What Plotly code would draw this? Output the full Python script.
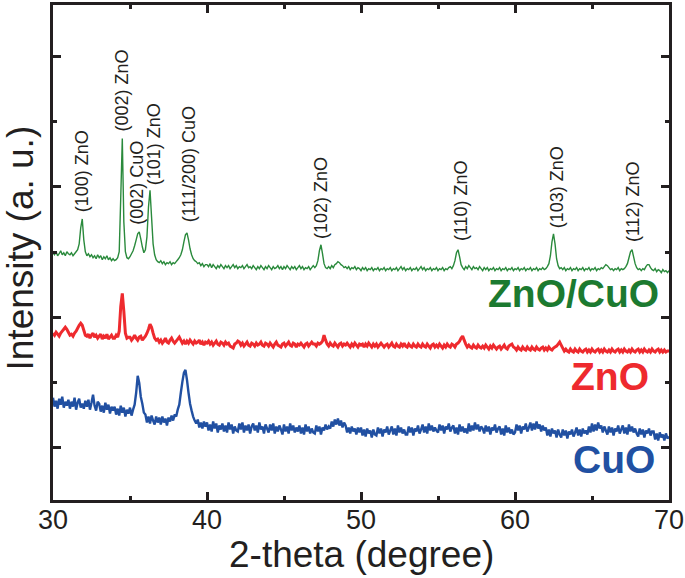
import plotly.graph_objects as go

# 2-theta grid: 30.0 .. 70.0 in 0.1 degree steps (rows = one degree each)
TWO_THETA_START = 30.0
TWO_THETA_STEP = 0.1

# ZnO/CuO composite pattern (arbitrary intensity units)
znocuo = [
    249, 247, 250, 246, 248, 251, 247, 249, 246, 250,  # 30
    248, 247, 249, 246, 248, 250, 252, 258, 274, 283,  # 31
    262, 250, 246, 248, 245, 247, 244, 246, 243, 247,  # 32
    244, 246, 242, 245, 243, 246, 242, 244, 241, 243,  # 33
    241, 242, 244, 250, 305, 364, 280, 250, 244, 243,  # 34
    245, 248, 251, 256, 262, 268, 270, 263, 255, 249,  # 35
    252, 265, 295, 312, 285, 258, 247, 242, 240, 239,  # 36
    241, 238, 240, 237, 239, 238, 240, 237, 239, 238,  # 37
    240, 242, 244, 247, 252, 260, 267, 269, 262, 253,  # 38
    247, 243, 241, 240, 238, 239, 236, 238, 235, 237,  # 39
    237, 235, 238, 234, 237, 235, 233, 236, 234, 237,  # 40
    235, 233, 236, 234, 236, 233, 235, 237, 234, 236,  # 41
    233, 235, 234, 236, 233, 235, 237, 234, 235, 233,  # 42
    236, 234, 232, 235, 233, 236, 234, 232, 235, 233,  # 43
    236, 234, 232, 235, 233, 234, 236, 233, 235, 232,  # 44
    235, 233, 236, 234, 232, 235, 233, 235, 232, 234,  # 45
    236, 233, 235, 232, 234, 233, 235, 232, 234, 236,  # 46
    234, 236, 241, 251, 257, 248, 238, 234, 233, 235,  # 47
    233, 236, 234, 237, 238, 240, 239, 237, 236, 234,  # 48
    235, 233, 235, 232, 234, 233, 235, 232, 234, 233,  # 49
    231, 234, 232, 234, 231, 233, 232, 234, 231, 233,  # 50
    232, 234, 231, 233, 232, 234, 231, 233, 232, 234,  # 51
    231, 233, 232, 234, 231, 233, 235, 232, 234, 231,  # 52
    233, 232, 234, 231, 233, 232, 234, 231, 233, 235,  # 53
    232, 234, 231, 233, 232, 234, 231, 233, 232, 234,  # 54
    231, 233, 232, 234, 231, 233, 232, 234, 235, 233,  # 55
    236, 241, 249, 252, 245, 237, 234, 232, 235, 233,  # 56
    236, 234, 232, 235, 233, 234, 232, 235, 233, 231,  # 57
    234, 232, 234, 231, 233, 232, 234, 231, 233, 232,  # 58
    234, 231, 233, 232, 234, 231, 233, 232, 234, 231,  # 59
    233, 232, 234, 231, 233, 232, 234, 231, 233, 232,  # 60
    234, 231, 233, 232, 234, 231, 233, 232, 234, 232,  # 61
    233, 235, 238, 246, 260, 268, 258, 243, 236, 233,  # 62
    234, 232, 234, 231, 233, 232, 234, 231, 233, 232,  # 63
    234, 231, 233, 232, 234, 231, 233, 232, 234, 231,  # 64
    233, 232, 234, 231, 233, 232, 234, 233, 235, 237,  # 65
    236, 234, 232, 233, 231, 233, 232, 234, 231, 233,  # 66
    232, 233, 235, 238, 244, 250, 252, 245, 238, 234,  # 67
    232, 233, 231, 233, 232, 235, 237, 237, 234, 232,  # 68
    231, 233, 230, 232, 231, 229, 232, 230, 231, 229,  # 69
    231,                                               # 70
]

# ZnO pattern
zno = [
    168, 166, 169, 167, 165, 168, 170, 172, 174, 172,  # 30
    169, 166, 167, 165, 168, 170, 173, 176, 178, 176,  # 31
    171, 166, 165, 167, 163, 166, 168, 164, 166, 163,  # 32
    165, 167, 162, 165, 163, 167, 162, 164, 166, 163,  # 33
    163, 166, 164, 170, 195, 208, 190, 168, 163, 164,  # 34
    164, 161, 163, 166, 163, 161, 164, 165, 161, 163,  # 35
    165, 168, 172, 177, 174, 168, 163, 161, 162, 159,  # 36
    161, 158, 160, 163, 159, 158, 161, 163, 160, 158,  # 37
    160, 162, 164, 161, 158, 160, 157, 160, 158, 161,  # 38
    159, 157, 160, 158, 159, 161, 157, 159, 156, 159,  # 39
    158, 160, 157, 159, 156, 158, 160, 157, 156, 159,  # 40
    158, 156, 159, 157, 158, 155, 154, 153, 157, 158,  # 41
    160, 159, 156, 158, 155, 157, 159, 156, 155, 158,  # 42
    157, 155, 158, 156, 157, 159, 156, 155, 158, 157,  # 43
    155, 158, 156, 154, 157, 159, 156, 155, 154, 157,  # 44
    158, 155, 157, 159, 156, 155, 158, 157, 154, 157,  # 45
    156, 158, 156, 154, 157, 158, 155, 157, 159, 157,  # 46
    157, 155, 158, 157, 158, 160, 166, 161, 157, 155,  # 47
    158, 156, 155, 158, 156, 154, 157, 158, 155, 157,  # 48
    156, 158, 156, 154, 157, 155, 158, 156, 154, 157,  # 49
    156, 157, 154, 157, 155, 158, 156, 154, 157, 155,  # 50
    157, 154, 156, 158, 156, 154, 156, 157, 154, 156,  # 51
    158, 155, 154, 157, 155, 154, 157, 155, 158, 155,  # 52
    154, 157, 155, 154, 157, 155, 154, 157, 155, 154,  # 53
    157, 155, 154, 157, 155, 153, 156, 157, 154, 156,  # 54
    154, 157, 155, 153, 156, 154, 157, 155, 154, 157,  # 55
    156, 154, 157, 158, 160, 163, 165, 161, 157, 154,  # 56
    156, 154, 153, 156, 154, 153, 156, 154, 153, 155,  # 57
    153, 156, 154, 152, 155, 153, 156, 154, 152, 154,  # 58
    155, 152, 154, 156, 153, 152, 155, 156, 157, 154,  # 59
    153, 151, 154, 152, 151, 154, 152, 151, 154, 152,  # 60
    151, 154, 152, 151, 154, 152, 151, 153, 154, 151,  # 61
    153, 151, 154, 152, 151, 153, 154, 155, 157, 159,  # 62
    156, 153, 150, 152, 150, 149, 152, 150, 149, 152,  # 63
    150, 149, 152, 150, 149, 151, 152, 149, 151, 149,  # 64
    152, 150, 149, 151, 152, 149, 151, 149, 152, 150,  # 65
    149, 151, 149, 152, 150, 149, 151, 152, 149, 151,  # 66
    149, 152, 150, 149, 151, 149, 152, 150, 149, 151,  # 67
    152, 149, 151, 149, 152, 150, 149, 151, 149, 152,  # 68
    150, 149, 151, 152, 149, 151, 149, 151, 149, 150,  # 69
    150,                                               # 70
]

# CuO pattern
cuo = [
    103, 94, 100, 92, 102, 96, 104, 93, 99, 95,    # 30
    101, 92, 99, 94, 103, 91, 98, 102, 93, 97,     # 31
    92, 100, 94, 101, 91, 98, 106, 95, 90, 99,     # 32
    97, 89, 95, 88, 98, 91, 96, 87, 94, 90,        # 33
    94, 86, 92, 85, 95, 88, 93, 84, 91, 87,        # 34
    93, 85, 91, 96, 108, 125, 118, 104, 97, 88,    # 35
    86, 78, 84, 77, 85, 80, 76, 84, 78, 83,        # 36
    76, 84, 78, 82, 75, 83, 79, 85, 80, 86,        # 37
    84, 91, 96, 108, 119, 128, 131, 121, 108, 97,  # 38
    90, 84, 80, 77, 81, 73, 78, 72, 79, 74,        # 39
    78, 70, 76, 69, 79, 72, 77, 68, 75, 71,        # 40
    77, 69, 75, 68, 78, 71, 76, 67, 74, 70,        # 41
    69, 77, 71, 78, 68, 75, 70, 76, 67, 74,        # 42
    77, 70, 75, 68, 78, 71, 74, 67, 76, 72,        # 43
    68, 76, 70, 77, 67, 74, 69, 75, 71, 66,        # 44
    76, 69, 74, 67, 77, 70, 75, 68, 73, 69,        # 45
    75, 67, 73, 66, 76, 69, 74, 67, 72, 68,        # 46
    67, 75, 69, 74, 66, 73, 70, 76, 71, 74,        # 47
    72, 79, 74, 81, 76, 82, 75, 80, 73, 78,        # 48
    75, 68, 73, 67, 74, 69, 72, 66, 73, 68,        # 49
    73, 65, 71, 64, 72, 67, 70, 63, 71, 66,        # 50
    65, 73, 67, 72, 64, 71, 68, 74, 66, 70,        # 51
    74, 66, 72, 65, 75, 68, 73, 67, 71, 66,        # 52
    66, 74, 68, 73, 65, 72, 69, 75, 67, 71,        # 53
    76, 68, 74, 67, 77, 70, 75, 69, 73, 70,        # 54
    68, 76, 70, 75, 67, 74, 71, 77, 69, 73,        # 55
    75, 67, 73, 66, 76, 69, 74, 68, 72, 67,        # 56
    77, 69, 75, 70, 78, 71, 76, 69, 74, 72,        # 57
    67, 75, 69, 74, 66, 73, 70, 76, 68, 72,        # 58
    74, 66, 72, 65, 75, 68, 73, 67, 71, 66,        # 59
    68, 76, 70, 75, 67, 74, 71, 77, 69, 73,        # 60
    78, 70, 77, 71, 79, 72, 76, 69, 75, 70,        # 61
    73, 65, 71, 64, 72, 67, 70, 63, 71, 66,        # 62
    63, 71, 65, 70, 62, 69, 66, 71, 64, 68,        # 63
    73, 65, 71, 64, 72, 67, 70, 66, 74, 68,        # 64
    77, 69, 76, 70, 78, 72, 75, 68, 74, 70,        # 65
    66, 74, 68, 73, 65, 72, 69, 75, 67, 71,        # 66
    75, 67, 73, 66, 76, 69, 74, 68, 72, 67,        # 67
    64, 72, 66, 71, 63, 70, 67, 72, 65, 69,        # 68
    69, 61, 67, 60, 68, 63, 66, 60, 67, 62,        # 69
    64,                                            # 70
]

# Peak labels: (text, 2-theta, intensity at label centre)
peak_labels = ["(100) ZnO", "(002) ZnO", "(002) CuO", "(101) ZnO", "(111/200) CuO",
               "(102) ZnO", "(110) ZnO", "(103) ZnO", "(112) ZnO"]
peak_label_x = [31.85, 34.46, 35.49, 36.57, 38.83, 47.40, 56.49, 62.73, 67.66]
peak_label_y = [331.5, 412, 319, 358.5, 338, 304, 302, 315, 301]

# Sample names
sample_names = ["ZnO/CuO", "ZnO", "CuO"]
sample_label_x = [63.77, 66.17, 66.46]
sample_label_y = [208, 124, 41]

x_ticks = [30, 40, 50, 60, 70]
x_tick_labels = ["30", "40", "50", "60", "70"]

for name, arr in (("znocuo", znocuo), ("zno", zno), ("cuo", cuo)):
    if len(arr) != 401:
        raise ValueError(f"{name} has {len(arr)} values")

two_theta = [round(TWO_THETA_START + i * TWO_THETA_STEP, 1) for i in range(len(znocuo))]

GREEN_LINE = "#2a8a3c"
GREEN_TEXT = "#1c7a30"
RED = "#ee2a2e"
BLUE = "#2150a2"
AX = "#231f20"
FONT = "Liberation Sans, Arial, sans-serif"

fig = go.Figure()
fig.add_trace(go.Scatter(x=two_theta, y=cuo, mode="lines",
                         line=dict(color=BLUE, width=2.4, simplify=False), name="CuO"))
fig.add_trace(go.Scatter(x=two_theta, y=zno, mode="lines",
                         line=dict(color=RED, width=3, simplify=False), name="ZnO"))
fig.add_trace(go.Scatter(x=two_theta, y=znocuo, mode="lines",
                         line=dict(color=GREEN_LINE, width=1.4, simplify=False), name="ZnO/CuO"))

annotations = []
for t, x, y in zip(peak_labels, peak_label_x, peak_label_y):
    annotations.append(dict(text=t, x=x, y=y, xref="x", yref="y", showarrow=False,
                            textangle=-90, font=dict(family=FONT, size=18, color="#231f20"),
                            xanchor="center", yanchor="middle"))
for t, x, y, c in zip(sample_names, sample_label_x, sample_label_y, [GREEN_TEXT, RED, BLUE]):
    annotations.append(dict(text=f"<b>{t}</b>", x=x, y=y, xref="x", yref="y", showarrow=False,
                            font=dict(family=FONT, size=39, color=c),
                            xanchor="center", yanchor="middle"))
for v, t in zip(x_ticks, x_tick_labels):
    annotations.append(dict(text=t, x=v, y=0, xref="x", yref="paper", showarrow=False,
                            xanchor="center", yanchor="middle", yshift=-20,
                            font=dict(family=FONT, size=27, color=AX)))
annotations.append(dict(text="Intensity (a. u.)", x=0, y=0.5, xref="paper", yref="paper",
                        showarrow=False, textangle=-90, xanchor="center", yanchor="middle",
                        xshift=-33, yshift=4, font=dict(family=FONT, size=37, color=AX)))
annotations.append(dict(text="2-theta (degree)", x=0.5, y=0, xref="paper", yref="paper",
                        showarrow=False, xanchor="center", yanchor="middle",
                        yshift=-54, font=dict(family=FONT, size=37, color=AX)))

fig.update_layout(
    width=685, height=578,
    margin=dict(l=53, r=16, t=2, b=78),
    paper_bgcolor="white", plot_bgcolor="white",
    showlegend=False,
    annotations=annotations,
    xaxis=dict(range=[30, 70], tickmode="array", tickvals=x_ticks,
               ticks="inside", ticklen=8, tickwidth=2.5, tickcolor=AX,
               minor=dict(dtick=5, tick0=30, ticks="inside", ticklen=4, tickwidth=2.5, tickcolor=AX),
               showticklabels=False,
               showline=True, linewidth=3, linecolor=AX, mirror="ticks",
               showgrid=False, zeroline=False),
    yaxis=dict(range=[0, 498.5], tickmode="array", tickvals=[52.7, 184, 315.3, 446.7],
               ticks="inside", ticklen=8, tickwidth=2.5, tickcolor=AX,
               minor=dict(tickmode="array", tickvals=[118.3, 249.7, 381],
                          ticks="inside", ticklen=4, tickwidth=2.5, tickcolor=AX),
               showticklabels=False,
               showline=True, linewidth=3, linecolor=AX, mirror="ticks",
               showgrid=False, zeroline=False),
)

fig.write_html("out.html", config={"displayModeBar": False},
               post_script="document.body.style.margin='0';document.body.style.overflow='hidden';")
